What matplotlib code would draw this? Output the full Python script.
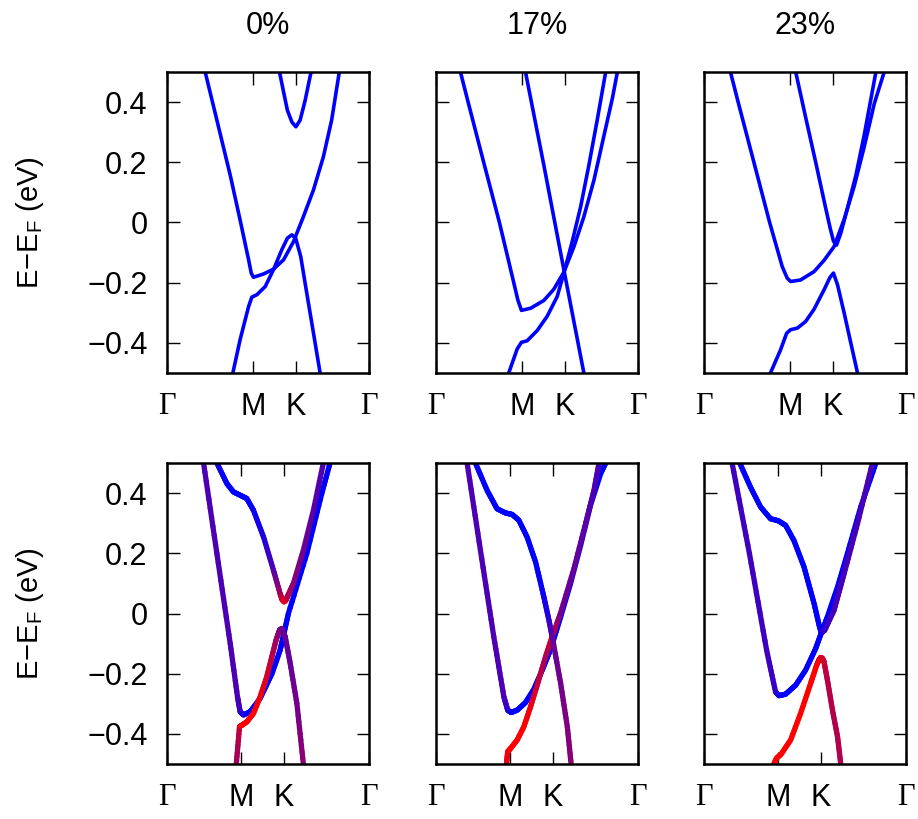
import numpy as np
import matplotlib
matplotlib.use("Agg")
import matplotlib.pyplot as plt
from matplotlib.collections import LineCollection

plt.rcParams['font.family'] = ['Liberation Sans', 'DejaVu Sans']
plt.rcParams['mathtext.fontset'] = 'custom'
plt.rcParams['mathtext.rm'] = 'Liberation Sans'
plt.rcParams['mathtext.it'] = 'Liberation Sans:italic'
plt.rcParams['mathtext.bf'] = 'Liberation Sans:bold'

# ---------------- labels / ticks ----------------
strain_titles = ["0%", "17%", "23%"]
kpath_labels = ["Γ", "M", "K", "Γ"]
kticks_top = [0.0, 0.425, 0.637, 1.0]
kticks_bottom = [0.0, 0.367, 0.579, 1.0]
energy_ticks = [-0.4, -0.2, 0.0, 0.2, 0.4]
energy_labels = ["−0.4", "−0.2", "0", "0.2", "0.4"]
ylabel_text = "E−E$_\\mathrm{F}$ (eV)"

# ---------------- top row: 0% ----------------
t0_b1_k = [0.189, 0.247, 0.313, 0.362, 0.404, 0.417, 0.428, 0.478, 0.527, 0.577, 0.626, 0.675, 0.725, 0.774, 0.815, 0.853]
t0_b1_e = [0.50, 0.34, 0.157, 0.008, -0.124, -0.168, -0.182, -0.171, -0.155, -0.124, -0.064, 0.019, 0.108, 0.218, 0.34, 0.50]
t0_b2_k = [0.326, 0.362, 0.404, 0.420, 0.445, 0.486, 0.527, 0.568, 0.596, 0.618, 0.637, 0.662, 0.692, 0.725, 0.758]
t0_b2_e = [-0.50, -0.389, -0.279, -0.248, -0.240, -0.213, -0.157, -0.091, -0.052, -0.041, -0.052, -0.113, -0.235, -0.367, -0.50]
t0_b3_k = [0.557, 0.577, 0.596, 0.618, 0.638, 0.659, 0.684, 0.713]
t0_b3_e = [0.50, 0.434, 0.373, 0.334, 0.318, 0.340, 0.406, 0.50]

# ---------------- top row: 17% ----------------
t1_b1_k = [0.121, 0.159, 0.236, 0.314, 0.385, 0.405, 0.423, 0.468, 0.534, 0.583, 0.633, 0.683, 0.732, 0.782, 0.831, 0.873, 0.898]
t1_b1_e = [0.50, 0.40, 0.20, 0.00, -0.20, -0.257, -0.292, -0.285, -0.259, -0.222, -0.165, -0.080, 0.019, 0.141, 0.287, 0.412, 0.50]
t1_b2_k = [0.360, 0.402, 0.423, 0.451, 0.501, 0.550, 0.600, 0.633, 0.674, 0.716, 0.757, 0.798, 0.840]
t1_b2_e = [-0.50, -0.420, -0.398, -0.393, -0.359, -0.312, -0.246, -0.168, -0.064, 0.052, 0.191, 0.340, 0.50]
t1_b3_k = [0.443, 0.534, 0.633, 0.732]
t1_b3_e = [0.50, 0.190, -0.157, -0.50]

# ---------------- top row: 23% ----------------
t2_b1_k = [0.131, 0.169, 0.247, 0.325, 0.387, 0.412, 0.429, 0.478, 0.545, 0.594, 0.644, 0.694, 0.743, 0.793, 0.843, 0.892]
t2_b1_e = [0.50, 0.40, 0.20, 0.00, -0.146, -0.185, -0.196, -0.191, -0.163, -0.126, -0.080, 0.011, 0.119, 0.251, 0.395, 0.50]
t2_b2_k = [0.329, 0.379, 0.409, 0.429, 0.462, 0.503, 0.545, 0.594, 0.624, 0.641, 0.661, 0.694, 0.727, 0.760]
t2_b2_e = [-0.50, -0.423, -0.368, -0.356, -0.351, -0.329, -0.288, -0.224, -0.182, -0.168, -0.207, -0.301, -0.401, -0.50]
t2_b3_k = [0.454, 0.503, 0.553, 0.600, 0.625, 0.641, 0.656, 0.677, 0.710, 0.752, 0.793, 0.851]
t2_b3_e = [0.50, 0.350, 0.200, 0.055, -0.020, -0.062, -0.075, -0.036, 0.047, 0.157, 0.290, 0.50]

# ---------------- bottom row: 0% (k, E, weight 0=blue .. 1=red) ----------------
b0_A_k = [0.247, 0.297, 0.329, 0.362, 0.395, 0.428, 0.478, 0.527, 0.560, 0.570, 0.579, 0.588, 0.600, 0.626, 0.675, 0.725, 0.774]
b0_A_e = [0.50, 0.431, 0.404, 0.393, 0.382, 0.343, 0.254, 0.144, 0.066, 0.046, 0.039, 0.044, 0.062, 0.100, 0.210, 0.343, 0.50]
b0_A_w = [0.10, 0.0, 0.0, 0.0, 0.0, 0.02, 0.12, 0.30, 0.60, 0.80, 0.90, 0.85, 0.72, 0.55, 0.45, 0.35, 0.30]
b0_B_k = [0.181, 0.247, 0.313, 0.349, 0.362, 0.379, 0.412, 0.461, 0.519, 0.560, 0.577, 0.601, 0.692, 0.766, 0.807]
b0_B_e = [0.50, 0.199, -0.10, -0.277, -0.326, -0.337, -0.326, -0.282, -0.201, -0.122, -0.072, 0.0, 0.199, 0.398, 0.50]
b0_B_w = [0.30, 0.30, 0.30, 0.30, 0.25, 0.10, 0.0, 0.0, 0.0, 0.0, 0.0, 0.0, 0.0, 0.0, 0.0]
b0_C_k = [0.343, 0.359, 0.371, 0.395, 0.428, 0.461, 0.494, 0.519, 0.540, 0.557, 0.568, 0.585, 0.610, 0.643, 0.675]
b0_C_e = [-0.50, -0.376, -0.371, -0.360, -0.332, -0.277, -0.210, -0.144, -0.088, -0.055, -0.050, -0.077, -0.166, -0.299, -0.50]
b0_C_w = [0.60, 0.75, 1.0, 1.0, 1.0, 0.95, 0.85, 0.75, 0.62, 0.52, 0.45, 0.40, 0.40, 0.45, 0.55]

# ---------------- bottom row: 17% ----------------
b1_A_k = [0.195, 0.253, 0.302, 0.344, 0.377, 0.410, 0.451, 0.493, 0.534, 0.559, 0.579, 0.617, 0.650, 0.669]
b1_A_e = [0.50, 0.409, 0.348, 0.334, 0.329, 0.310, 0.254, 0.171, 0.055, -0.022, -0.091, -0.232, -0.376, -0.50]
b1_A_w = [0.05, 0.0, 0.0, 0.0, 0.0, 0.0, 0.0, 0.0, 0.05, 0.15, 0.40, 0.45, 0.50, 0.55]
b1_B_k = [0.154, 0.220, 0.286, 0.336, 0.355, 0.372, 0.402, 0.443, 0.484, 0.526, 0.559, 0.579, 0.617, 0.666, 0.716, 0.765, 0.815, 0.840]
b1_B_e = [0.50, 0.210, -0.077, -0.277, -0.321, -0.329, -0.321, -0.296, -0.252, -0.188, -0.133, -0.094, -0.011, 0.100, 0.227, 0.360, 0.465, 0.50]
b1_B_w = [0.30, 0.30, 0.30, 0.30, 0.20, 0.05, 0.0, 0.0, 0.0, 0.0, 0.0, 0.0, 0.0, 0.0, 0.0, 0.0, 0.0, 0.0]
b1_C_k = [0.349, 0.355, 0.372, 0.402, 0.435, 0.468, 0.501, 0.542, 0.575, 0.617, 0.683, 0.749, 0.782, 0.807]
b1_C_e = [-0.50, -0.459, -0.446, -0.420, -0.376, -0.310, -0.238, -0.144, -0.077, 0.002, 0.149, 0.321, 0.409, 0.50]
b1_C_w = [0.85, 0.95, 1.0, 1.0, 1.0, 0.95, 0.80, 0.65, 0.85, 0.45, 0.40, 0.35, 0.30, 0.30]

# ---------------- bottom row: 23% ----------------
b2_A_k = [0.177, 0.230, 0.280, 0.329, 0.368, 0.404, 0.445, 0.495, 0.545, 0.570, 0.581, 0.598, 0.644, 0.694, 0.760, 0.834]
b2_A_e = [0.50, 0.420, 0.354, 0.315, 0.308, 0.293, 0.243, 0.155, 0.033, -0.039, -0.064, -0.055, 0.011, 0.133, 0.299, 0.50]
b2_A_w = [0.05, 0.0, 0.0, 0.0, 0.0, 0.0, 0.0, 0.0, 0.0, 0.0, 0.05, 0.20, 0.28, 0.28, 0.28, 0.28]
b2_B_k = [0.139, 0.225, 0.310, 0.354, 0.371, 0.404, 0.454, 0.503, 0.553, 0.581, 0.611, 0.661, 0.710, 0.776, 0.851]
b2_B_e = [0.50, 0.199, -0.122, -0.260, -0.273, -0.268, -0.238, -0.188, -0.116, -0.064, -0.011, 0.088, 0.199, 0.354, 0.50]
b2_B_w = [0.25, 0.25, 0.25, 0.22, 0.10, 0.0, 0.0, 0.0, 0.0, 0.0, 0.0, 0.0, 0.0, 0.0, 0.0]
b2_C_k = [0.346, 0.359, 0.382, 0.429, 0.478, 0.528, 0.558, 0.570, 0.578, 0.586, 0.594, 0.611, 0.636, 0.661, 0.677]
b2_C_e = [-0.50, -0.481, -0.467, -0.420, -0.332, -0.232, -0.171, -0.153, -0.146, -0.149, -0.160, -0.221, -0.321, -0.409, -0.50]
b2_C_w = [1.0, 1.0, 1.0, 1.0, 1.0, 1.0, 1.0, 0.97, 0.92, 0.85, 0.80, 0.72, 0.70, 0.70, 0.70]

top_panels = [
    [(t0_b1_k, t0_b1_e), (t0_b2_k, t0_b2_e), (t0_b3_k, t0_b3_e)],
    [(t1_b1_k, t1_b1_e), (t1_b2_k, t1_b2_e), (t1_b3_k, t1_b3_e)],
    [(t2_b1_k, t2_b1_e), (t2_b2_k, t2_b2_e), (t2_b3_k, t2_b3_e)],
]
bottom_panels = [
    [(b0_B_k, b0_B_e, b0_B_w), (b0_C_k, b0_C_e, b0_C_w), (b0_A_k, b0_A_e, b0_A_w)],
    [(b1_B_k, b1_B_e, b1_B_w), (b1_C_k, b1_C_e, b1_C_w), (b1_A_k, b1_A_e, b1_A_w)],
    [(b2_B_k, b2_B_e, b2_B_w), (b2_A_k, b2_A_e, b2_A_w), (b2_C_k, b2_C_e, b2_C_w)],
]


def gradient_line(ax, k, e, w, lw, nsub=10):
    k = np.asarray(k, float)
    e = np.asarray(e, float)
    w = np.asarray(w, float)
    segs, cols = [], []
    for i in range(len(k) - 1):
        for j in range(nsub):
            a, b = j / nsub, (j + 1) / nsub
            p0 = (k[i] + (k[i + 1] - k[i]) * a, e[i] + (e[i + 1] - e[i]) * a)
            p1 = (k[i] + (k[i + 1] - k[i]) * b, e[i] + (e[i + 1] - e[i]) * b)
            wm = w[i] + (w[i + 1] - w[i]) * (a + b) / 2
            segs.append([p0, p1])
            cols.append((wm, 0.0, 1.0 - wm))
    lc = LineCollection(segs, colors=cols, linewidths=lw,
                        capstyle='round', joinstyle='round')
    ax.add_collection(lc)


fig = plt.figure(figsize=(9.18, 8.19), dpi=100)
W, H = 918.0, 819.0
col_left = [167, 436, 704]
ax_w = 202
rows = [(72, 373), (463, 764)]

FS = 22
for r, (ytop, ybot) in enumerate(rows):
    for c in range(3):
        ax = fig.add_axes([col_left[c] / W, 1 - ybot / H, ax_w / W, (ybot - ytop) / H])
        ax.set_xlim(0, 1)
        ax.set_ylim(-0.5, 0.5)
        if r == 0:
            for k, e in top_panels[c]:
                ax.plot(k, e, color=(0, 0, 1), lw=2.6, solid_capstyle='round',
                        solid_joinstyle='round')
            kt = kticks_top
            ax.set_title(strain_titles[c], fontsize=FS, pad=27)
        else:
            for k, e, w in bottom_panels[c]:
                gradient_line(ax, k, e, w, lw=3.8)
            kt = kticks_bottom
        ax.set_xticks(kt)
        ax.set_xticklabels(kpath_labels)
        for lab in ax.get_xticklabels():
            if lab.get_text() == "Γ":
                lab.set_fontfamily(['Liberation Serif', 'DejaVu Serif'])
        ax.set_yticks(energy_ticks)
        if c == 0:
            ax.set_yticklabels(energy_labels)
        else:
            ax.set_yticklabels([])
        ax.tick_params(axis='both', direction='in', top=True, right=True,
                       length=9, width=1.0, labelsize=FS, color='black')
        ax.tick_params(axis='x', pad=14)
        ax.tick_params(axis='y', pad=14)
        for s in ax.spines.values():
            s.set_linewidth(1.8)
        if c == 0:
            fig.text(30 / W, 1 - ((ytop + ybot) / 2) / H, ylabel_text,
                     rotation=90, ha='center', va='center', fontsize=21)

fig.savefig("out.png", dpi=100)
